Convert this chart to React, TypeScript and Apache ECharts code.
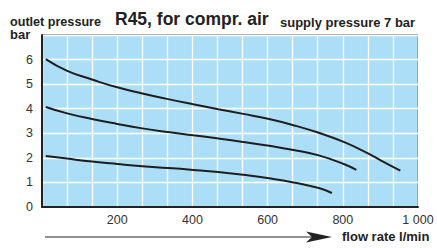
import React, { useEffect, useRef } from "react";
import * as echarts from "echarts";

const topFlow = [10, 67, 133, 200, 267, 329, 402, 469, 535, 604, 669, 736, 804, 871, 902, 953];
const topPressure = [6.02, 5.54, 5.19, 4.87, 4.62, 4.41, 4.18, 3.98, 3.79, 3.58, 3.33, 3.02, 2.64, 2.15, 1.89, 1.48];

const midFlow = [10, 67, 133, 200, 267, 335, 402, 469, 535, 604, 669, 736, 804, 836];
const midPressure = [4.07, 3.81, 3.58, 3.38, 3.2, 3.05, 2.92, 2.79, 2.65, 2.49, 2.32, 2.1, 1.74, 1.51];

const lowFlow = [10, 67, 133, 200, 267, 335, 402, 469, 535, 604, 669, 736, 771];
const lowPressure = [2.08, 1.97, 1.85, 1.75, 1.66, 1.59, 1.51, 1.42, 1.31, 1.17, 1.0, 0.77, 0.57];

const xTickLabels: Record<number, string> = { 200: "200", 400: "400", 600: "600", 800: "800", 1000: "1 000" };
const yTickLabels = ["0", "1", "2", "3", "4", "5", "6"];

const FONT = "'Liberation Sans', Arial, Helvetica, sans-serif";

function pairs(xs: number[], ys: number[]) {
  return xs.map((x, i) => [x, ys[i]]);
}

export default function App() {
  const ref = useRef<HTMLDivElement>(null);
  useEffect(() => {
    if (!ref.current) return;
    const chart = echarts.init(ref.current, null, { renderer: "svg" });
    const lineSeries = (data: number[][]) => ({
      type: "line",
      data,
      smooth: 0.5,
      showSymbol: false,
      lineStyle: { color: "#1e1e1e", width: 2 },
      z: 5,
    });
    chart.setOption({
      animation: false,
      grid: {
        left: 42,
        top: 35,
        right: 19,
        bottom: 41,
        show: true,
        backgroundColor: "#ACDFF7",
        borderColor: "#333",
        borderWidth: 1,
      },
      xAxis: {
        type: "value",
        min: 0,
        max: 1000,
        interval: 200 / 3,
        axisLine: { show: true, onZero: false, lineStyle: { color: "#222", width: 2 } },
        axisTick: { show: false },
        splitLine: { show: true, lineStyle: { color: "#ffffff", width: 1.3 } },
        axisLabel: {
          margin: 6,
          color: "#333",
          fontFamily: FONT,
          fontSize: 12.5,
          formatter: (v: number) => xTickLabels[Math.round(v)] || "",
        },
      },
      yAxis: {
        type: "value",
        min: 0,
        max: 7,
        interval: 1,
        axisLine: { show: true, onZero: false, lineStyle: { color: "#222", width: 2 } },
        axisTick: { show: false },
        splitLine: { show: true, lineStyle: { color: "#ffffff", width: 1.3 } },
        axisLabel: {
          margin: 9,
          color: "#333",
          fontFamily: FONT,
          fontSize: 12.5,
          formatter: (v: number) => yTickLabels[Math.round(v)] ?? "",
        },
      },
      series: [
        lineSeries(pairs(topFlow, topPressure)),
        lineSeries(pairs(midFlow, midPressure)),
        lineSeries(pairs(lowFlow, lowPressure)),
      ],
      graphic: [
        {
          type: "text",
          left: 10,
          top: 15,
          style: { text: "outlet pressure", font: `bold 12.6px ${FONT}`, fill: "#222" },
        },
        {
          type: "text",
          left: 115,
          top: 10,
          style: { text: "R45, for compr. air", font: `bold 17.5px ${FONT}`, fill: "#222" },
        },
        {
          type: "text",
          left: 280,
          top: 16,
          style: { text: "supply pressure 7 bar", font: `bold 13px ${FONT}`, fill: "#222" },
        },
        {
          type: "text",
          left: 10,
          top: 28,
          style: { text: "bar", font: `bold 13px ${FONT}`, fill: "#222" },
        },
        {
          type: "line",
          shape: { x1: 45, y1: 237, x2: 315, y2: 237 },
          style: { stroke: "#222", lineWidth: 1.2 },
        },
        {
          type: "polygon",
          shape: { points: [[332, 237], [306, 231.5], [312, 237], [306, 242.5]] },
          style: { fill: "#222" },
        },
        {
          type: "text",
          left: 342,
          top: 230,
          style: { text: "flow rate l/min", font: `bold 13px ${FONT}`, fill: "#222" },
        },
      ],
    });
    return () => chart.dispose();
  }, []);
  return <div ref={ref} style={{ width: 437, height: 248, position: "absolute", left: 0, top: 0 }} />;
}
